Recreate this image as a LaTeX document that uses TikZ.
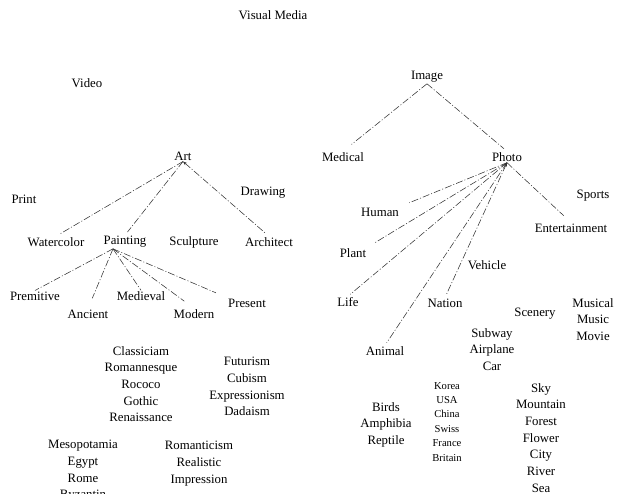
\documentclass[tikz,border=0pt]{standalone}
\usepackage{fontspec}
\setmainfont{Liberation Serif}
\usetikzlibrary{arrows.meta}

\begin{document}
\begin{tikzpicture}[x=1pt,y=-1pt]
\tikzset{mylabel/.style={inner sep=1pt,font=\fontsize{12.8}{16.7}\selectfont},
  mylist/.style={inner sep=0pt,anchor=north,align=center,font=\fontsize{12.8}{16.7}\selectfont},
  smalllist/.style={inner sep=0pt,anchor=north,align=center,font=\fontsize{10.6}{14.4}\selectfont},
  mylink/.style={draw=black!80,line width=0.55pt,dash pattern=on 7pt off 2pt on 1pt off 2pt}}
\def\tipsize{4pt}
\useasboundingbox (0,0) rectangle (622,494);

% top level
\node[mylabel] (visual) at (273,15) {Visual Media};
\node[mylabel] (video) at (87,83) {Video};
\node[mylabel] (image) at (427,77) {Image};

% left tree
\node[mylabel] (art) at (183,156) {Art};
\node[mylabel] (print) at (24,199) {Print};
\node[mylabel] (drawing) at (263,193) {Drawing};
\node[mylabel] (watercolor) at (56,242) {Watercolor};
\node[mylabel] (painting) at (125,242) {Painting};
\node[mylabel] (sculpture) at (194,242) {Sculpture};
\node[mylabel] (architect) at (269,242) {Architect};
\node[mylabel] (premitive) at (35,296) {Premitive};
\node[mylabel] (ancient) at (88,314) {Ancient};
\node[mylabel] (medieval) at (141,296) {Medieval};
\node[mylabel] (modern) at (194,314) {Modern};
\node[mylabel] (present) at (247,303) {Present};
\node[mylist] (styles) at (141,346) {Classiciam\\Romannesque\\Rococo\\Gothic\\Renaissance};
\node[mylist] (isms) at (247,357) {Futurism\\Cubism\\Expressionism\\Dadaism};
\node[mylist] (oldworld) at (83,440) {Mesopotamia\\Egypt\\Rome\\Byzantin};
\node[mylist] (romantic) at (199,441) {Romanticism\\Realistic\\Impression};

\draw[mylink,shorten >=4pt] (art.south) -- (watercolor.north);
\draw[mylink,shorten >=4pt] (art.south) -- (painting.north);
\draw[mylink,shorten >=4pt,{Stealth[length=\tipsize]}-] (art.south) -- (architect.north);
\draw[mylink] ([xshift=-12pt]painting.south) -- (premitive.north);
\draw[mylink,shorten >=11pt] ([xshift=-12pt]painting.south) -- (ancient.north);
\draw[mylink] ([xshift=-12pt]painting.south) -- (medieval.north);
\draw[mylink,shorten >=12pt] ([xshift=-12pt]painting.south) -- (modern.north);
\draw[mylink,shorten >=12pt] ([xshift=-12pt]painting.south) -- (present.north west);

% right tree
\node[mylabel] (medical) at (343,157) {Medical};
\node[mylabel] (photo) at (507,157) {Photo};
\node[mylabel] (sports) at (593,196) {Sports};
\node[mylabel] (human) at (380,212) {Human};
\node[mylabel] (entertain) at (571,228) {Entertainment};
\node[mylabel] (plant) at (353,253) {Plant};
\node[mylabel] (vehicle) at (487,265) {Vehicle};
\node[mylabel] (life) at (348,302) {Life};
\node[mylabel] (nation) at (445,303) {Nation};
\node[mylabel] (scenery) at (535,314) {Scenery};
\node[mylist] (musical) at (593,298) {Musical\\Music\\Movie};
\node[mylabel] (animal) at (385,351) {Animal};
\node[mylist] (transport) at (492,328) {Subway\\Airplane\\Car};
\node[mylist] (creatures) at (386,402) {Birds\\Amphibia\\Reptile};
\node[smalllist] (countries) at (447,382) {Korea\\USA\\China\\Swiss\\France\\Britain};
\node[mylist] (nature) at (541,383) {Sky\\Mountain\\Forest\\Flower\\City\\River\\Sea};

\draw[mylink,shorten >=11pt] (image.south) -- (medical.north);
\draw[mylink,shorten >=4pt] (image.south) -- (photo.north);
\draw[mylink,shorten >=10pt] (photo.south) -- (human.north east);
\draw[mylink,shorten >=8pt] (photo.south) -- (plant.north east);
\draw[mylink,shorten >=3pt] (photo.south) -- (life.north);
\draw[mylink,shorten >=3pt] (photo.south) -- (animal.north);
\draw[mylink,shorten >=4pt,{Stealth[length=\tipsize]}-] (photo.south) -- (nation.north);
\draw[mylink,shorten >=10pt] (photo.south) -- (entertain.north);
\end{tikzpicture}
\end{document}
